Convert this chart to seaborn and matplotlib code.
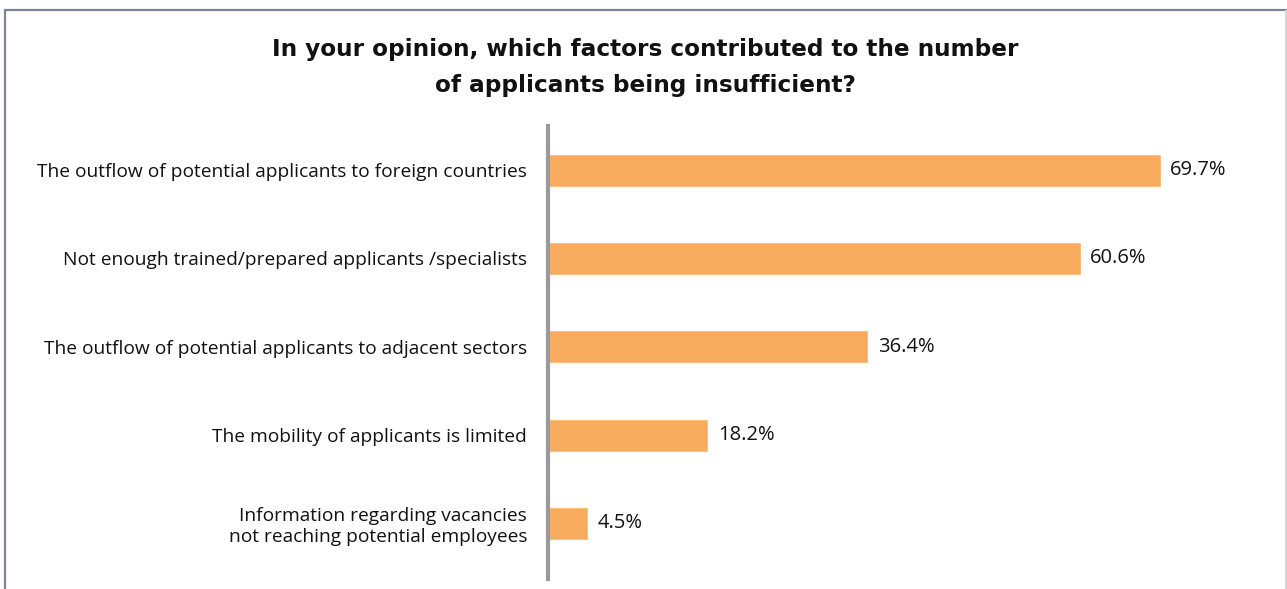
import matplotlib
matplotlib.use("Agg")
import matplotlib.pyplot as plt
import seaborn as sns
import pandas as pd
from matplotlib.patches import Rectangle

# Survey answers and the share of respondents choosing each one
factors = [
    "The outflow of potential applicants to foreign countries",
    "Not enough trained/prepared applicants /specialists",
    "The outflow of potential applicants to adjacent sectors",
    "The mobility of applicants is limited",
    "Information regarding vacancies\nnot reaching potential employees",
]
shares = [69.7, 60.6, 36.4, 18.2, 4.5]

title = ("In your opinion, which factors contributed to the number\n"
         "of applicants being insufficient?")

bar_color = "#F8AD5E"
text_color = "#111111"

sns.set_theme(style="white")
plt.rcParams["font.family"] = ["Open Sans", "DejaVu Sans"]

W, H = 1287, 589
fig = plt.figure(figsize=(W / 100, H / 100), dpi=100)

# Plot area in pixel terms: spine at x=548, top at y=126, bottom at y=579
ax_left, ax_right, ax_top, ax_bottom = 548, 1281, 126, 579
ax = fig.add_axes([ax_left / W, 1 - ax_bottom / H,
                   (ax_right - ax_left) / W, (ax_bottom - ax_top) / H])

df = pd.DataFrame({"factor": factors, "share": shares})
sns.barplot(data=df, y="factor", x="share", orient="h", color=bar_color,
            saturation=1, width=0.374, ax=ax)

ax.set_xlim(0, 83.4)
ax.set_ylim(4.63, -0.5)
ax.set_xlabel("")
ax.set_ylabel("")
ax.set_xticks([])

for side in ("top", "right", "bottom"):
    ax.spines[side].set_visible(False)
ax.spines["left"].set_color("#9a9a9e")
ax.spines["left"].set_linewidth(3)

ax.tick_params(axis="y", length=0, pad=15, labelsize=13.8, labelcolor=text_color)

for cont in ax.containers:
    ax.bar_label(cont, labels=[f"{v:.1f}%" for v in shares], padding=7,
                 fontsize=14.5, color=text_color)

fig.text(645 / W, 1 - 38 / H, title, ha="center", va="top",
         family="DejaVu Sans", fontweight="bold", fontsize=16.7,
         color="#111111", linespacing=1.7)

# Frame around the chart panel
fig.patches.append(Rectangle((5 / W, -0.05), (W - 5) / W - 0.5 / W, 1.05 - 10 / H,
                             transform=fig.transFigure, fill=False,
                             edgecolor="#7b8595", linewidth=1.6))
fig.patches.append(Rectangle(((W - 1.5) / W, -0.05), 0, 1.05 - 10 / H,
                             transform=fig.transFigure, fill=False,
                             edgecolor="#d6d6d6", linewidth=1.2))

fig.savefig("out.png", dpi=100)
